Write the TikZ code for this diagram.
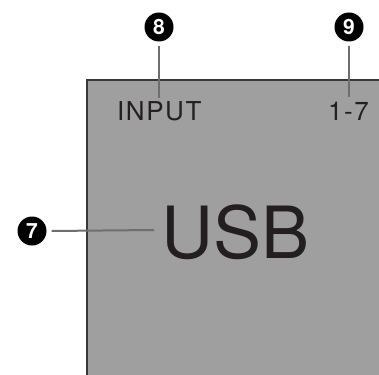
\documentclass[tikz,border=0pt]{standalone}
\usepackage{fontspec}
\setmainfont{TeX Gyre Heros}
\newfontfamily\spacedfont[LetterSpace=6]{TeX Gyre Heros}
\definecolor{panel}{HTML}{9E9F9E}
\definecolor{edge}{HTML}{3A3837}
\definecolor{leader}{HTML}{6E6E6E}
\definecolor{ink}{HTML}{231F20}
\begin{document}
\begin{tikzpicture}[x=1pt,y=-1pt,
  callout/.style={circle,fill=black,text=white,inner sep=0pt,minimum size=29pt,font=\fontsize{21}{21}\selectfont\bfseries},
  leadline/.style={draw=leader,line width=2pt},
  label/.style={anchor=base west,inner sep=0pt,text=ink}]
\useasboundingbox (0,0) rectangle (379,374);
\fill[panel] (87,80) rectangle (390,385);
\draw[edge,line width=1.6pt] (87,385) -- (87,80) -- (390,80);
\node[label,font=\spacedfont\fontsize{26}{26}\selectfont] (tin) at (117,121) {INPUT};
\node[label,font=\spacedfont\fontsize{26}{26}\selectfont] (t17) at (328,121) {1-7};
\node[label,font=\fontsize{72}{72}\selectfont] (tusb) at (161,258) {USB};
\node[callout] (c8) at (159,27) {8};
\node[callout] (c9) at (349,27) {9};
\node[callout] (c7) at (32,231) {7};
\coordinate (e8) at (159,98);
\coordinate (e9) at (349,97);
\coordinate (e7) at (154,230);
\draw[leadline] ([yshift=-4pt]c8.south) -- (e8);
\draw[leadline] ([yshift=-4pt]c9.south) -- (e9);
\draw[leadline] ([xshift=5pt]c7.east) -- (e7);
\end{tikzpicture}
\end{document}
